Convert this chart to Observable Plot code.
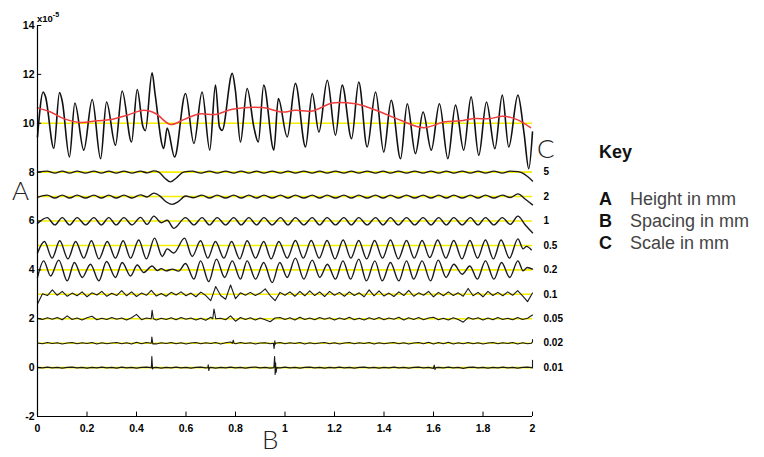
<!DOCTYPE html>
<html><head><meta charset="utf-8">
<script src="https://cdn.jsdelivr.net/npm/d3@7"></script>
<script src="https://cdn.jsdelivr.net/npm/@observablehq/plot@0.6"></script>
<style>
body{margin:0;background:#fff;}
#wrap{position:relative;width:764px;height:457px;overflow:hidden;}
#wrap svg{position:absolute;left:0;top:0;}
</style></head><body><div id="wrap"></div>
<script>
// ---- data ----
const xTicks = [0, 0.2, 0.4, 0.6, 0.8, 1, 1.2, 1.4, 1.6, 1.8, 2];
const yTicks = [-2, 0, 2, 4, 6, 8, 10, 12, 14];
const baselines = [10, 8, 7, 6, 5, 4, 3, 2, 1, 0];
const scaleLabels = ["5", "2", "1", "0.5", "0.2", "0.1", "0.05", "0.02", "0.01"];
const scaleOffsets = [8, 7, 6, 5, 4, 3, 2, 1, 0];

// top profile (absolute values, x10^-5)
const topSignal = [[0.000,9.44],[0.023,11.28],[0.032,11.1],[0.066,8.98],[0.089,11.26],[0.1,10.9],[0.129,8.62],[0.151,10.83],[0.187,8.90],[0.221,10.97],[0.255,8.55],[0.279,10.87],[0.315,9.10],[0.342,11.32],[0.380,9.23],[0.403,11.38],[0.425,9.9],[0.436,9.70],[0.463,12.06],[0.475,11.2],[0.510,8.97],[0.524,9.80],[0.554,8.62],[0.598,11.22],[0.632,9.17],[0.665,11.28],[0.696,8.90],[0.719,11.56],[0.735,9.85],[0.746,9.71],[0.787,12.04],[0.80,11.3],[0.820,9.23],[0.847,11.42],[0.875,9.8],[0.892,9.23],[0.914,11.56],[0.955,8.90],[0.973,11.01],[1.009,9.44],[1.042,11.63],[1.083,9.03],[1.110,11.22],[1.137,9.64],[1.171,11.76],[1.204,9.51],[1.231,11.56],[1.269,9.37],[1.298,11.69],[1.332,9.03],[1.366,11.28],[1.399,8.82],[1.429,10.94],[1.467,8.55],[1.494,10.80],[1.527,8.76],[1.558,10.46],[1.591,8.90],[1.624,10.80],[1.658,8.55],[1.689,10.74],[1.722,8.90],[1.752,11.08],[1.783,8.69],[1.814,10.87],[1.848,8.96],[1.878,11.15],[1.904,9.03],[1.941,11.15],[1.966,9.58],[1.985,8.14],[2.0,9.64]];

// smooth trend (red)
const redTrend = [[0,10.63],[0.053,10.46],[0.106,10.19],[0.174,10.03],[0.241,10.1],[0.295,10.15],[0.362,10.33],[0.429,10.53],[0.477,10.4],[0.537,9.95],[0.591,10.15],[0.652,10.38],[0.719,10.36],[0.787,10.57],[0.908,10.64],[0.989,10.46],[1.042,10.53],[1.110,10.5],[1.191,10.83],[1.258,10.83],[1.31,10.74],[1.386,10.46],[1.467,10.12],[1.561,9.82],[1.642,10.05],[1.709,10.1],[1.763,10.19],[1.830,10.19],[1.878,10.29],[1.938,10.15],[1.992,9.82]];

// band-pass levels, deviations from their baseline
const level8 = [[0,0],[0.039,0.04],[0.07,-0.04],[0.1,0.04],[0.13,-0.04],[0.16,0.04],[0.194,-0.04],[0.228,0.04],[0.258,-0.04],[0.288,0.04],[0.318,-0.04],[0.349,0.04],[0.382,-0.04],[0.416,0.04],[0.443,-0.03],[0.47,0.05],[0.49,0],[0.515,-0.25],[0.537,-0.4],[0.56,-0.25],[0.59,0],[0.625,0.04],[0.66,-0.04],[0.695,0.04],[0.726,-0.04],[0.76,0.04],[0.793,-0.04],[0.823,0.04],[0.854,-0.04],[0.885,0.04],[0.915,-0.04],[0.948,0.04],[0.982,-0.04],[1.012,0.04],[1.042,-0.04],[1.076,0.04],[1.11,-0.04],[1.14,0.04],[1.17,-0.04],[1.204,0.04],[1.238,-0.04],[1.268,0.04],[1.298,-0.04],[1.332,0.04],[1.366,-0.04],[1.396,0.04],[1.426,-0.04],[1.458,0.04],[1.491,-0.04],[1.524,0.04],[1.558,-0.04],[1.59,0.04],[1.621,-0.04],[1.652,0.04],[1.682,-0.04],[1.716,0.04],[1.749,-0.04],[1.78,0.04],[1.81,-0.04],[1.844,0.04],[1.878,-0.04],[1.91,0.04],[1.941,0.02],[1.96,-0.04],[1.98,-0.18],[2.0,-0.36]];
const level7 = [[0,-0.03],[0.039,0.06],[0.07,-0.06],[0.1,0.06],[0.13,-0.06],[0.16,0.06],[0.194,-0.06],[0.228,0.06],[0.258,-0.06],[0.288,0.06],[0.318,-0.06],[0.349,0.06],[0.382,-0.06],[0.416,0.07],[0.443,-0.02],[0.47,0.14],[0.495,0.02],[0.518,-0.2],[0.544,-0.32],[0.57,-0.2],[0.598,0.02],[0.63,-0.05],[0.665,0.06],[0.695,-0.06],[0.726,0.06],[0.76,-0.06],[0.793,0.06],[0.823,-0.06],[0.854,0.06],[0.885,-0.06],[0.915,0.06],[0.948,-0.06],[0.982,0.06],[1.012,-0.06],[1.042,0.06],[1.076,-0.06],[1.11,0.06],[1.14,-0.06],[1.17,0.06],[1.204,-0.06],[1.238,0.06],[1.268,-0.06],[1.298,0.06],[1.332,-0.06],[1.366,0.06],[1.396,-0.06],[1.426,0.06],[1.458,-0.06],[1.491,0.06],[1.524,-0.06],[1.558,0.06],[1.59,-0.06],[1.621,0.06],[1.652,-0.06],[1.682,0.06],[1.716,-0.06],[1.749,0.06],[1.78,-0.06],[1.81,0.06],[1.844,-0.06],[1.878,0.06],[1.91,-0.04],[1.941,0.11],[1.97,-0.1],[2.0,-0.34]];
const level6 = [[0,-0.1],[0.039,0.14],[0.07,-0.16],[0.1,0.14],[0.13,-0.16],[0.16,0.14],[0.194,-0.16],[0.228,0.14],[0.258,-0.16],[0.288,0.14],[0.318,-0.16],[0.349,0.14],[0.382,-0.16],[0.416,0.15],[0.443,-0.14],[0.47,0.2],[0.50,-0.07],[0.524,0.03],[0.551,-0.3],[0.598,0.14],[0.632,-0.16],[0.665,0.14],[0.695,-0.16],[0.726,0.14],[0.76,-0.16],[0.793,0.14],[0.823,-0.16],[0.854,0.14],[0.885,-0.16],[0.915,0.14],[0.948,-0.16],[0.982,0.14],[1.012,-0.16],[1.042,0.14],[1.076,-0.16],[1.11,0.14],[1.14,-0.16],[1.17,0.14],[1.204,-0.16],[1.238,0.14],[1.268,-0.16],[1.298,0.14],[1.332,-0.16],[1.366,0.14],[1.396,-0.16],[1.426,0.14],[1.458,-0.16],[1.491,0.14],[1.524,-0.16],[1.558,0.14],[1.59,-0.16],[1.621,0.14],[1.652,-0.16],[1.682,0.14],[1.716,-0.16],[1.749,0.14],[1.78,-0.16],[1.81,0.14],[1.844,-0.16],[1.878,0.14],[1.91,-0.14],[1.941,0.2],[1.97,-0.15],[2.0,-0.48]];
const level5 = [[0,-0.31],[0.028,0.16],[0.059,-0.52],[0.09,0.19],[0.123,-0.55],[0.154,0.16],[0.187,-0.52],[0.218,0.19],[0.248,-0.55],[0.282,0.16],[0.315,-0.52],[0.346,0.19],[0.376,-0.52],[0.409,0.22],[0.440,-0.55],[0.473,0.30],[0.504,-0.45],[0.524,-0.14],[0.551,-0.31],[0.594,0.30],[0.625,-0.45],[0.659,0.19],[0.688,-0.52],[0.719,0.16],[0.753,-0.52],[0.784,0.16],[0.817,-0.55],[0.847,0.19],[0.881,-0.52],[0.914,0.16],[0.944,-0.55],[0.975,0.16],[1.009,-0.52],[1.042,0.2],[1.074,-0.52],[1.106,0.2],[1.138,-0.52],[1.170,0.2],[1.202,-0.55],[1.235,0.22],[1.266,-0.52],[1.298,0.2],[1.330,-0.55],[1.362,0.2],[1.394,-0.52],[1.426,0.22],[1.458,-0.55],[1.491,0.2],[1.522,-0.52],[1.554,0.2],[1.585,-0.5],[1.617,0.22],[1.650,-0.52],[1.682,0.2],[1.715,-0.55],[1.747,0.2],[1.778,-0.52],[1.810,0.22],[1.842,-0.55],[1.873,0.22],[1.907,-0.52],[1.941,0.27],[1.962,-0.14],[1.976,-0.04],[1.995,-0.18]];
const level4 = [[0,-0.31],[0.025,0.37],[0.053,-0.25],[0.086,0.40],[0.12,-0.45],[0.149,0.30],[0.181,-0.31],[0.214,0.23],[0.248,-0.45],[0.279,0.34],[0.315,-0.31],[0.342,0.30],[0.376,-0.25],[0.403,0.20],[0.429,-0.11],[0.463,0.16],[0.484,-0.03],[0.50,0.05],[0.52,-0.04],[0.545,0.03],[0.57,-0.05],[0.598,0.26],[0.632,-0.38],[0.659,0.37],[0.692,-0.48],[0.723,0.44],[0.756,-0.31],[0.787,0.37],[0.82,-0.38],[0.847,0.37],[0.881,-0.38],[0.914,0.30],[0.948,-0.52],[0.979,0.30],[1.009,-0.31],[1.042,0.48],[1.076,-0.38],[1.110,0.40],[1.141,-0.31],[1.171,0.23],[1.204,-0.38],[1.234,0.37],[1.265,-0.38],[1.298,0.44],[1.329,-0.45],[1.363,0.37],[1.393,-0.45],[1.426,0.30],[1.46,-0.45],[1.491,0.37],[1.52,-0.38],[1.554,0.37],[1.588,-0.45],[1.619,0.40],[1.651,-0.31],[1.682,0.23],[1.716,-0.18],[1.747,0.16],[1.777,-0.38],[1.81,0.37],[1.844,-0.38],[1.875,0.30],[1.908,-0.31],[1.941,0.37],[1.962,-0.04],[1.979,0.1],[2.0,0.03]];

// fine-scale levels: evenly spaced samples 0..2 (deviations), plus sharp spikes
const level3Noise = [-0.4,0.02,-0.05,0.18,-0.04,0.12,-0.08,0.05,-0.06,0.1,-0.1,0.06,-0.03,0.12,-0.08,0.04,-0.05,0.15,-0.06,0.1,-0.09,0.05,-0.04,0.16,-0.07,0.03,-0.08,0.08,-0.03,0.1,-0.06,0.05,-0.1,0.09,-0.05,-0.26,0.32,-0.05,-0.2,0.38,-0.18,0.06,-0.04,0.08,-0.05,0.05,0.22,-0.05,-0.26,0.08,-0.04,0.1,-0.08,0.12,-0.06,0.14,-0.05,0.1,-0.09,0.12,-0.04,0.08,-0.08,0.1,-0.05,0.06,-0.1,0.18,-0.06,0.14,-0.07,0.05,-0.09,0.1,-0.05,0.16,-0.08,0.06,-0.04,0.12,-0.1,0.08,-0.06,0.1,-0.05,0.06,-0.08,0.24,-0.06,0.08,-0.1,0.12,-0.05,0.08,-0.06,0.1,-0.04,0.15,-0.06,-0.3,0.05];
const level2Noise = [0.02,-0.03,0.04,-0.02,0.05,-0.04,0.12,-0.03,0.03,-0.05,0.04,0.1,-0.04,0.02,-0.03,0.05,-0.02,0.03,-0.05,0.04,0.18,-0.04,0.03,0.05,-0.05,0.02,-0.03,0.04,-0.04,0.05,-0.02,0.03,-0.05,0.02,-0.06,0.06,0.02,0.02,-0.04,0.12,-0.1,0.05,-0.03,0.04,-0.05,0.03,-0.04,-0.12,0.03,0.05,-0.03,0.04,-0.05,0.06,-0.03,0.03,-0.04,0.05,-0.02,0.04,-0.05,0.03,-0.03,0.06,-0.04,0.02,-0.05,0.04,-0.03,0.05,-0.04,0.03,-0.02,0.06,-0.05,0.04,-0.03,0.05,-0.04,0.03,0.06,-0.04,0.02,-0.05,0.04,-0.03,-0.14,0.05,-0.02,0.04,-0.05,0.03,-0.04,0.05,-0.03,0.02,-0.04,0.05,-0.03,0.02,0.15];
const level1Noise = [0.01,-0.02,0.03,-0.01,0.02,-0.03,0.01,0.03,-0.02,0.02,-0.01,0.03,-0.03,0.02,-0.02,0.01,0.03,-0.02,0.02,-0.03,0.04,-0.02,0.03,0.01,-0.03,0.02,-0.01,0.03,-0.02,0.02,-0.03,0.01,0.03,-0.02,0.02,-0.01,0.03,-0.03,0.02,0.05,-0.02,0.03,-0.01,0.02,-0.03,0.01,0.02,-0.02,-0.05,0.03,-0.02,0.02,-0.01,0.03,-0.03,0.02,-0.02,0.01,0.03,-0.02,0.02,-0.03,0.01,0.03,-0.02,0.02,-0.01,0.03,-0.03,0.02,-0.02,0.01,0.03,-0.02,0.02,-0.03,0.01,0.03,-0.02,0.04,-0.03,0.03,-0.02,0.04,-0.03,0.02,-0.02,0.03,-0.02,0.02,-0.03,0.01,0.03,-0.02,0.02,-0.01,0.03,-0.03,0.02,-0.02,0.05];
const level0Noise = [0.01,-0.01,0.02,-0.01,0.01,-0.02,0.01,0.02,-0.01,0.01,-0.02,0.01,-0.01,0.02,-0.01,0.01,-0.02,0.02,-0.01,0.01,-0.02,0.01,0.02,-0.01,0.01,-0.02,0.01,-0.01,0.02,-0.01,0.01,-0.02,0.01,0.02,-0.01,0.01,-0.02,0.01,-0.01,0.02,-0.01,0.01,-0.02,0.01,0.02,-0.01,0.01,-0.02,0.01,-0.01,0.02,-0.01,0.01,-0.02,0.01,0.02,-0.01,0.01,-0.02,0.01,-0.01,0.02,-0.01,0.01,-0.02,0.01,0.02,-0.01,0.01,-0.02,0.01,-0.01,0.02,-0.01,0.01,-0.02,0.01,0.02,-0.01,0.01,-0.03,0.01,-0.01,0.02,-0.01,0.01,-0.03,0.01,0.02,-0.01,0.01,-0.02,0.01,-0.01,0.02,-0.01,0.01,-0.02,0.01,0.02,-0.01];
const level2Spikes = [[0.459,0],[0.463,0.35],[0.468,0],[0.708,0],[0.713,0.4],[0.72,0]];
const level1Spikes = [[0.459,0],[0.462,0.25],[0.466,-0.03],[0.788,0],[0.791,0.12],[0.794,0],[0.953,0],[0.956,-0.22],[0.959,0.1],[0.962,0],[1.996,0],[2.0,0.15]];
const level0Spikes = [[0.459,0],[0.462,0.45],[0.465,-0.05],[0.468,0],[0.688,0],[0.69,0.12],[0.692,-0.12],[0.695,0],[0.955,0],[0.958,0.45],[0.96,-0.28],[0.962,0.2],[0.964,-0.2],[0.967,0],[1.6,0],[1.603,0.1],[1.606,-0.08],[1.609,0],[1.996,0],[2.0,0.3]];

// ---- build tables ----
const toRows = (pairs, offset) => pairs.map(([x, y]) => ({x, y: y + offset}));
const noiseRows = (vals, spikes, offset) => {
  const n = vals.length;
  const rows = vals.map((v, i) => ({x: 2 * i / (n - 1), y: v + offset}));
  for (const [x, y] of spikes) rows.push({x, y: y + offset});
  return rows.sort((a, b) => a.x - b.x);
};
const smoothLevels = [[level8, 8], [level7, 7], [level6, 6], [level5, 5], [level4, 4]]
  .flatMap(([p, o]) => toRows(p, o).map(r => ({...r, s: o})));
const fineLevels = [
  noiseRows(level3Noise, [], 3), noiseRows(level2Noise, level2Spikes, 2),
  noiseRows(level1Noise, level1Spikes, 1), noiseRows(level0Noise, level0Spikes, 0)
].flatMap((rows, i) => rows.map(r => ({...r, s: 3 - i})));
const labelRows = scaleLabels.map((t, i) => ({t, y: scaleOffsets[i]}));

const font = "'Liberation Sans', Arial, Helvetica, sans-serif";
const chart = Plot.plot({
  width: 764, height: 457,
  marginLeft: 37, marginRight: 232, marginTop: 25, marginBottom: 41,
  style: {fontFamily: font, fontSize: "10.5px", fontWeight: "bold", color: "#000", background: "transparent"},
  x: {domain: [0, 2], label: null},
  y: {domain: [-2, 14], label: null},
  marks: [
    Plot.ruleY(baselines, {y: d => d, x1: 0, x2: 2, stroke: "#f4ee00", strokeWidth: 1.6}),
    Plot.line(fineLevels, {x: "x", y: "y", z: "s", stroke: "#1a1a1a", strokeWidth: 1.1, curve: "linear"}),
    Plot.line(smoothLevels, {x: "x", y: "y", z: "s", stroke: "#1a1a1a", strokeWidth: 1.4, curve: "monotone-x"}),
    Plot.line(toRows(topSignal, 0), {x: "x", y: "y", stroke: "#111", strokeWidth: 1.6, curve: "monotone-x"}),
    Plot.line(toRows(redTrend, 0), {x: "x", y: "y", stroke: "#f03c3c", strokeWidth: 1.5, curve: "catmull-rom"}),
    Plot.ruleX([0], {y1: -2, y2: 14, stroke: "#000", strokeWidth: 1.2}),
    Plot.ruleY([-2], {x1: 0, x2: 2, stroke: "#000", strokeWidth: 1.2}),
    Plot.ruleX(xTicks, {x: d => d, y1: -2, y2: -1.82, stroke: "#000"}),
    Plot.ruleY(yTicks, {y: d => d, x1: 0, x2: 0.017, stroke: "#000"}),
    Plot.axisX({ticks: xTicks, tickSize: 0, tickPadding: 8, tickFormat: d => String(d), fontWeight: "bold", label: null}),
    Plot.axisY({ticks: yTicks, tickSize: 0, tickPadding: 3, tickFormat: d => String(d), fontWeight: "bold", label: null}),
    Plot.text(labelRows, {x: 2, y: "y", text: "t", dx: 11, textAnchor: "start", fontSize: 10, fontWeight: "bold", fill: "#000"})
  ]
});
document.getElementById("wrap").appendChild(chart);

// annotations
const svg = d3.select(chart);
const exp = svg.append("text").attr("x", 37).attr("y", 21.5).attr("text-anchor", "start").attr("font-size", 9.5).attr("font-weight", "bold").attr("font-family", font).text("x10");
exp.append("tspan").attr("dy", -5).attr("font-size", 7).text("-5");
const big = (t, x, y) => svg.append("text").attr("x", x).attr("y", y).attr("text-anchor", "start").attr("font-family", "Lato, 'DejaVu Sans', sans-serif").attr("font-weight", 300).attr("font-size", 26).attr("fill", "#222").text(t);
big("A", 12, 200); big("B", 262, 449); big("C", 537, 158);
svg.append("text").attr("x", 599).attr("y", 158).attr("text-anchor", "start").attr("font-family", font).attr("font-weight", "bold").attr("font-size", 18).attr("fill", "#111").text("Key");
const keyItems = [["A", "Height in mm"], ["B", "Spacing in mm"], ["C", "Scale in mm"]];
keyItems.forEach(([k, v], i) => {
  svg.append("text").attr("x", 599).attr("y", 205 + 22 * i).attr("text-anchor", "start").attr("font-family", font).attr("font-weight", "bold").attr("font-size", 18).attr("fill", "#111").text(k);
  svg.append("text").attr("x", 630).attr("y", 205 + 22 * i).attr("text-anchor", "start").attr("font-family", font).attr("font-weight", "normal").attr("font-size", 18).attr("fill", "#444").text(v);
});
</script></body></html>
